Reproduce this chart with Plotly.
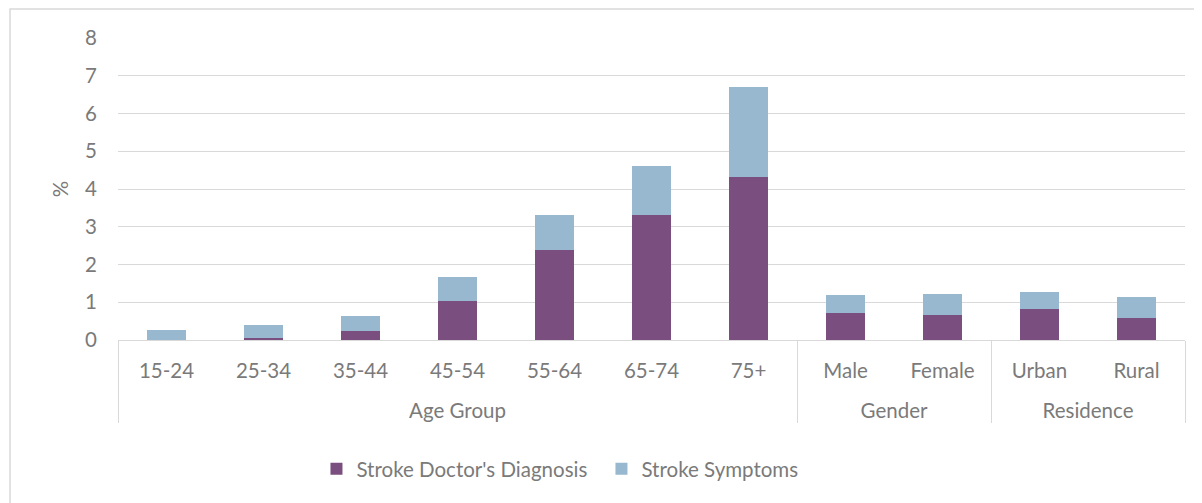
import plotly.graph_objects as go

groups = ["Age Group"] * 7 + ["Gender"] * 2 + ["Residence"] * 2
categories = ["15-24", "25-34", "35-44", "45-54", "55-64", "65-74", "75+",
              "Male", "Female", "Urban", "Rural"]
diagnosis = [0.0, 0.05, 0.25, 1.04, 2.39, 3.32, 4.31, 0.71, 0.67, 0.81, 0.57]
symptoms = [0.27, 0.34, 0.39, 0.63, 0.91, 1.29, 2.39, 0.49, 0.55, 0.46, 0.56]
y_ticks = [0, 1, 2, 3, 4, 5, 6, 7, 8]

FONT = "Lato"
TXT = "#7a7a7a"
GRID = "#d9d9d9"
FS = 20.5

# group labels start with a blank line to widen the gap below the category level
group_labels = ["\u00a0<br>" + g for g in groups]

fig = go.Figure()
fig.add_trace(go.Bar(x=[group_labels, categories], y=diagnosis,
                     name="Stroke Doctor's Diagnosis",
                     marker=dict(color="#7a4e7e", line=dict(width=0))))
fig.add_trace(go.Bar(x=[group_labels, categories], y=symptoms,
                     name="Stroke Symptoms",
                     marker=dict(color="#97b8cf", line=dict(width=0))))

fig.update_layout(
    barmode="stack",
    bargap=0.6,
    width=1194, height=495,
    margin=dict(l=110, r=17, t=30, b=163),
    paper_bgcolor="white",
    plot_bgcolor="white",
    font=dict(family=FONT, size=FS, color=TXT),
    legend=dict(orientation="h", x=0.186, xanchor="left", y=-0.427, yanchor="middle",
                font=dict(family=FONT, size=FS, color=TXT),
                itemwidth=30, entrywidth=240, traceorder="normal"),
    xaxis=dict(type="multicategory", showline=True, linecolor=GRID, linewidth=1,
               showgrid=False, ticks="", showdividers=True, dividercolor=GRID,
               dividerwidth=1, ticklabelstandoff=12, automargin=False,
               tickfont=dict(family=FONT, size=FS, color=TXT)),
    yaxis=dict(range=[0, 8], tickvals=y_ticks, showgrid=True, gridcolor=GRID,
               gridwidth=1, zeroline=False, showline=False, ticks="",
               ticklabelstandoff=20, automargin=False,
               tickfont=dict(family=FONT, size=FS, color=TXT),
               title=dict(text="%", font=dict(family=FONT, size=FS, color=TXT), standoff=10)),
    shapes=[dict(type="rect", xref="paper", yref="paper",
                 x0=-0.1012, x1=1.1, y0=-0.7, y1=1.096,
                 line=dict(color=GRID, width=1.5), fillcolor="rgba(0,0,0,0)", layer="below")],
)

fig.write_html("out.html")
